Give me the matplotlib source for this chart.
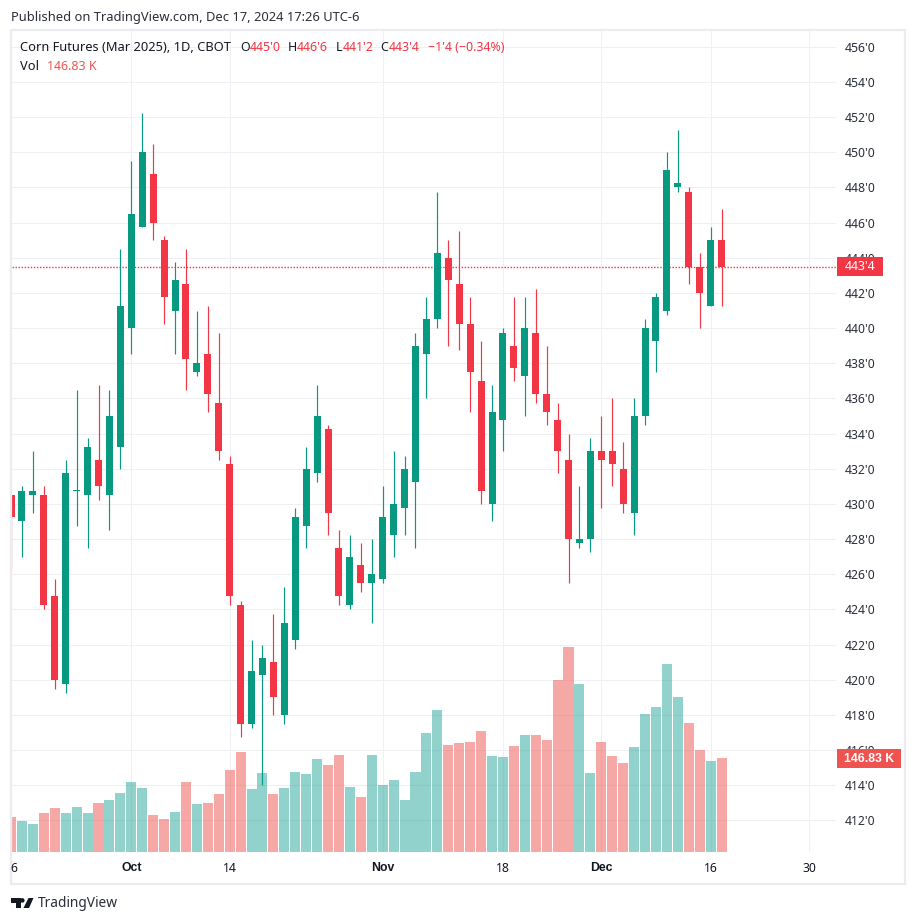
import numpy as np
import matplotlib
matplotlib.use("Agg")
import matplotlib.pyplot as plt
from matplotlib.patches import Rectangle, Polygon

W, H = 916, 923
plt.rcParams['font.family'] = ['Noto Sans', 'DejaVu Sans']

# bar index 0 is Oct 1 2024, first visible bar is Sep 16
opens = [430.5, 429, 430.5, 430.5, 424.75, 419.75, 430.75, 430.5, 432.5, 430.5, 433.25,
         440, 445.75, 448.75, 445, 441, 442.5, 437.5, 438.5, 435.75, 432.25, 424.25,
         417.5, 420.25, 421, 418, 422.25, 428.75, 431.75, 434.25, 427.5, 424.25, 426.5,
         425.5, 425.75, 428.25, 429.75, 431.25, 438.5, 440.5, 444, 442.5, 440.25, 437,
         430, 434.75, 439, 437.25, 439.75, 436.25, 434.75, 432.5, 427.75, 428, 433,
         433, 432, 429.5, 435, 439.25, 441, 448, 447.75, 443.5, 441.25, 445]
highs = [430.5, 431, 433, 431, 425.75, 432.5, 436.5, 433.75, 436.75, 436.5, 444.5,
         449.5, 452.25, 450.5, 445.25, 443.75, 444.5, 441, 441.25, 439.75, 432.75, 424.5,
         422.25, 422, 423.75, 425.25, 429.75, 433.25, 436.75, 434.5, 428.5, 428.25, 427.75,
         428, 431, 433, 432.75, 439.75, 441.75, 447.75, 445, 445.5, 441.75, 439.25,
         436.75, 440, 441.75, 441.75, 442.25, 439, 435.75, 434, 431, 433.75, 435,
         436, 433.5, 436, 440.5, 442, 450, 451.25, 448, 444.25, 445.75, 446.75]
lows = [426.25, 427, 429.5, 424, 419.5, 419.25, 428.75, 427.5, 430.25, 428.5, 432,
        438.5, 445.75, 445, 440.25, 438.5, 436.5, 437.25, 435.25, 432.5, 424.25, 416.75,
        417.25, 414, 418, 417.5, 421.75, 427.5, 431.25, 428.25, 424.25, 424, 425,
        423.25, 425.5, 427, 428.25, 427.5, 436, 440, 439, 438.75, 435.25, 430,
        429, 433, 437, 435, 435.75, 434.5, 431.75, 425.5, 427.5, 427.25, 429.75,
        431, 429.5, 428.25, 434.5, 437.5, 440.75, 447.75, 442.5, 440, 441.25, 441.25]
closes = [429.25, 430.75, 430.75, 424.25, 420, 431.75, 430.75, 433.25, 431, 435, 441.25,
          446.5, 450, 446, 441.75, 442.75, 438.25, 438, 436.25, 433, 424.75, 417.5,
          420.5, 421.25, 419, 423.25, 429.25, 432, 435, 429.5, 424.75, 427, 425.5,
          426, 429.25, 430, 432, 439, 440.5, 444.25, 442.75, 440.25, 437.5, 430.75,
          435.25, 439.75, 437.75, 440, 436.25, 435.25, 433, 428, 428, 433, 432.5,
          432.25, 430, 435, 440, 441.75, 449, 448.25, 443.5, 442, 445, 443.5]
volumes = [54.7, 48.4, 43.7, 60.9, 68.7, 60.9, 70.3, 60.9, 76.5, 81.2, 92.2,
           109.3, 100, 57.8, 51.5, 62.5, 109.3, 75, 76.5, 90.6, 128.1, 156.2,
           98.4, 123.4, 90.6, 100, 125, 121.8, 145.3, 135.9, 151.5, 101.5, 85.9,
           151.5, 104.7, 112.5, 81.2, 125, 185.9, 221.8, 167.1, 170.3, 171.8, 189,
           150, 148.4, 165.6, 182.8, 182.8, 175, 268.7, 320.2, 262.4, 123.4, 171.8,
           150, 139, 164, 215.6, 226.5, 293.7, 242.1, 201.5, 159.3, 142.2, 146.83]
last_price = 443.5
price_ticks = list(range(412, 458, 2))
date_pos = [0, 9, 23, 34, 43, 53, 62]
date_labels = ['Oct', '14', 'Nov', '18', 'Dec', '16', '30']

GREEN = '#089981'
RED = '#F23645'
TEXT = '#131722'

x = np.arange(-11, 55)
o, h, l, c = map(np.array, (opens, highs, lows, closes))
up = c >= o

fig = plt.figure(figsize=(W / 100, H / 100), dpi=100, facecolor='white')


def px(xp, yp):
    return xp / W, 1 - yp / H


ax = fig.add_axes([11.5 / W, 1 - 852 / H, (836 - 11.5) / W, (852 - 31) / H])
ax.set_xlim(-10.96, 64.47)
ax.set_ylim(410.2, 456.9)
for s in ax.spines.values():
    s.set_visible(False)

ax.grid(True, color='#eff0f3', lw=0.75, zorder=0)
ax.set_axisbelow(True)

# volume shares the price axis, scaled so it sits along the bottom
vol_k = 5.347 / 146.83
vol_colors = ['#26a69a' if u else '#ef5350' for u in up]
ax.bar(x, np.array(volumes) * vol_k, bottom=410.2, width=0.92, color=vol_colors,
       alpha=0.5, lw=0, zorder=1)

ax.axhline(last_price, color=RED, lw=1, dashes=(1, 1.2), zorder=2)

colors = [GREEN if u else RED for u in up]
ax.vlines(x, l, h, colors=colors, lw=0.85, zorder=3)
heights = np.maximum(np.abs(c - o), 0.06)
ax.bar(x, heights, bottom=np.minimum(o, c), width=0.64, color=colors, lw=0, zorder=4)

ax.yaxis.tick_right()
ax.set_yticks(price_ticks)
ax.set_yticklabels([f"{v}'0" for v in price_ticks], fontsize=8.8, color='#2a2e39')
ax.set_xticks(date_pos)
ax.set_xticklabels(date_labels, fontsize=8.8, color=TEXT)
for lab in ax.get_xticklabels():
    if lab.get_text() in ('Oct', 'Nov', 'Dec'):
        lab.set_family('Liberation Sans')
        lab.set_fontweight('bold')
ax.tick_params(axis='both', length=0)
ax.tick_params(axis='y', pad=6.5)
ax.tick_params(axis='x', pad=7)


def txt(xp, yp, s, color=TEXT, size=8.9, ha='left', **kw):
    xf, yf = px(xp, yp)
    fig.text(xf, yf, s, color=color, fontsize=size, ha=ha, va='center', zorder=12, **kw)


def box(x0, y0, x1, y1, color):
    xf, yf = px(x0, y1)
    fig.add_artist(Rectangle((xf, yf), (x1 - x0) / W, (y1 - y0) / H, transform=fig.transFigure,
                             facecolor=color, edgecolor='none', zorder=11))


# clipped date label at the left edge
txt(14, 868, '6', ha='center', size=8.8)

# outer frame
fig.add_artist(Rectangle(px(11, 884), (905 - 11) / W, (884 - 30) / H, transform=fig.transFigure,
                         facecolor='none', edgecolor='#ebebf0', lw=1.6, zorder=10))

# price and volume labels on the scale
box(837, 257, 883, 275.5, RED)
txt(860, 266.5, "443'4", color='white', ha='center', size=8.8)
box(837, 749, 901, 768, '#EF5350')
txt(869, 758.5, '146.83 K', color='white', ha='center', size=8.8, family='Liberation Sans', fontweight='bold')

# header
txt(11, 17, 'Published on TradingView.com, Dec 17, 2024 17:26 UTC-6', color='#2a2e39', size=9.3)
txt(20, 47.7, 'Corn Futures (Mar 2025), 1D, CBOT', size=9.25)
for xp, s in [(240, 'O'), (288, 'H'), (335.7, 'L'), (380.7, 'C')]:
    txt(xp, 47.7, s)
for xp, s in [(249.3, "445'0"), (296.7, "446'6"), (342.3, "441'2"), (389, "443'4"),
              (427.7, "\u22121'4 (\u22120.34%)")]:
    txt(xp, 47.7, s, color=RED)
txt(20, 66, 'Vol', size=9.25)
txt(47, 66, '146.83 K', color='#EF5350')

# footer logo
logo = '#131722'
fig.add_artist(Polygon([px(11, 898), px(21, 898), px(21, 908), px(16, 908), px(16, 902.6), px(11, 902.6)],
                       closed=True, transform=fig.transFigure, facecolor=logo, edgecolor='none', zorder=11))
fig.add_artist(Polygon([px(28.5, 898), px(33.5, 898), px(29, 908), px(23.5, 908)],
                       closed=True, transform=fig.transFigure, facecolor=logo, edgecolor='none', zorder=11))
fig.add_artist(Polygon([px(22.3 + 2.3 * np.cos(t), 900.4 + 2.3 * np.sin(t)) for t in np.linspace(0, 6.28, 16)],
                       closed=True, transform=fig.transFigure, facecolor=logo, edgecolor='none', zorder=11))
txt(38, 903.5, 'TradingView', color='#2a2e39', size=9.9)

fig.savefig('out.png', dpi=100, facecolor='white')
